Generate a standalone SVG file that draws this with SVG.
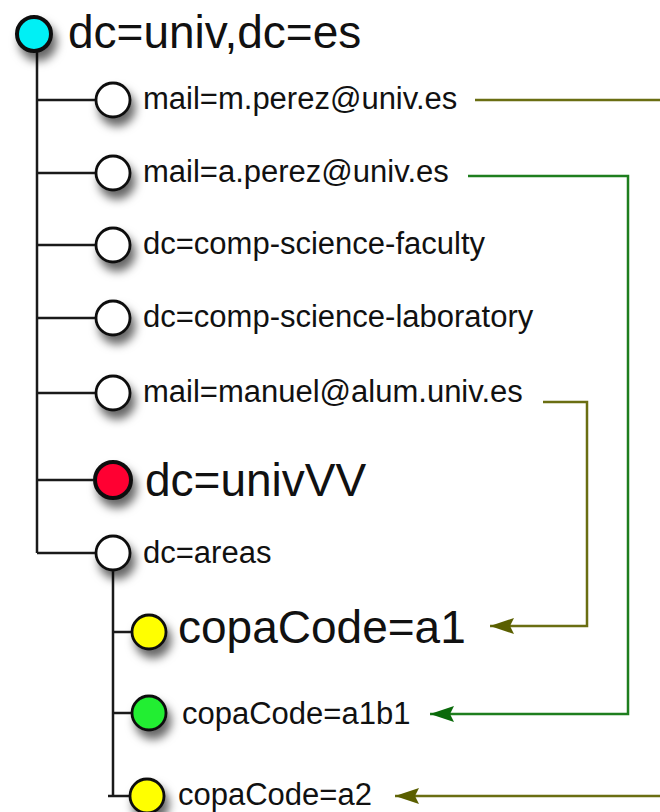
<svg xmlns="http://www.w3.org/2000/svg" width="660" height="812" viewBox="0 0 660 812">
<defs>
<filter id="sh" x="-60%" y="-60%" width="240%" height="260%">
<feDropShadow dx="4" dy="8" stdDeviation="5" flood-color="#000" flood-opacity="0.6"/>
</filter>
<marker id="arrOlive" viewBox="0 0 24 16" refX="24" refY="8" markerWidth="24" markerHeight="16" markerUnits="userSpaceOnUse" orient="auto">
<path d="M24,8 L0,0 L4,8 L0,16 Z" fill="#5a5f00"/>
</marker>
<marker id="arrGreen" viewBox="0 0 24 16" refX="24" refY="8" markerWidth="24" markerHeight="16" markerUnits="userSpaceOnUse" orient="auto">
<path d="M24,8 L0,0 L4,8 L0,16 Z" fill="#0a6a0a"/>
</marker>
</defs>
<style>
.tree{stroke:#1a1a1a;stroke-width:2.5;fill:none}
.node{stroke:#111;stroke-width:2.8;filter:url(#sh)}
.big{stroke-width:4}
.t{font-family:"Liberation Sans",Arial,sans-serif;fill:#111}
.s{font-size:31px}
.l{font-size:46px}
.olive{stroke:#6a6e12;stroke-width:2.5;fill:none}
.green{stroke:#1e7e1e;stroke-width:2.5;fill:none}
</style>
<g id="tree-lines">
<path class="tree" d="M37,52 V553 M37,100 H96 M37,173 H96 M37,245 H96 M37,318 H96 M37,393 H96 M37,480 H93 M37,553 H96"/>
<path class="tree" d="M113,571 V796 M113,632 H132 M113,713 H132 M108,796 H130"/>
</g>
<g id="connectors">
<path class="olive" d="M475,100 H680 V796 H395" marker-end="url(#arrOlive)"/>
<path class="green" d="M468,176 H628 V714 H430" marker-end="url(#arrGreen)"/>
<path class="olive" d="M543,402 H587 V626 H490" marker-end="url(#arrOlive)"/>
</g>
<g id="root"><circle class="node big" cx="34" cy="34" r="17" fill="#00f0f5"/><text class="t l" x="68" y="48">dc=univ,dc=es</text></g>
<g id="n-mperez"><circle class="node" cx="113" cy="100" r="17" fill="#fff"/><text class="t s" x="143" y="109">mail=m.perez@univ.es</text></g>
<g id="n-aperez"><circle class="node" cx="113" cy="173" r="17" fill="#fff"/><text class="t s" x="143" y="182">mail=a.perez@univ.es</text></g>
<g id="n-faculty"><circle class="node" cx="113" cy="245" r="17" fill="#fff"/><text class="t s" x="143" y="254">dc=comp-science-faculty</text></g>
<g id="n-laboratory"><circle class="node" cx="113" cy="318" r="17" fill="#fff"/><text class="t s" x="143" y="327">dc=comp-science-laboratory</text></g>
<g id="n-manuel"><circle class="node" cx="113" cy="393" r="17" fill="#fff"/><text class="t s" x="143" y="402">mail=manuel@alum.univ.es</text></g>
<g id="n-univVV"><circle class="node big" cx="113" cy="480" r="18" fill="#ff0033"/><text class="t l" x="145" y="496">dc=univVV</text></g>
<g id="n-areas"><circle class="node" cx="113" cy="553" r="17" fill="#fff"/><text class="t s" x="143" y="563">dc=areas</text></g>
<g id="n-a1"><circle class="node" cx="149" cy="632" r="17" fill="#ffff00"/><text class="t l" x="178" y="643">copaCode=a1</text></g>
<g id="n-a1b1"><circle class="node" cx="149" cy="713" r="17" fill="#22ee33"/><text class="t s" x="182" y="724">copaCode=a1b1</text></g>
<g id="n-a2"><circle class="node" cx="147" cy="796" r="17" fill="#ffff00"/><text class="t s" x="178" y="805">copaCode=a2</text></g>
</svg>
